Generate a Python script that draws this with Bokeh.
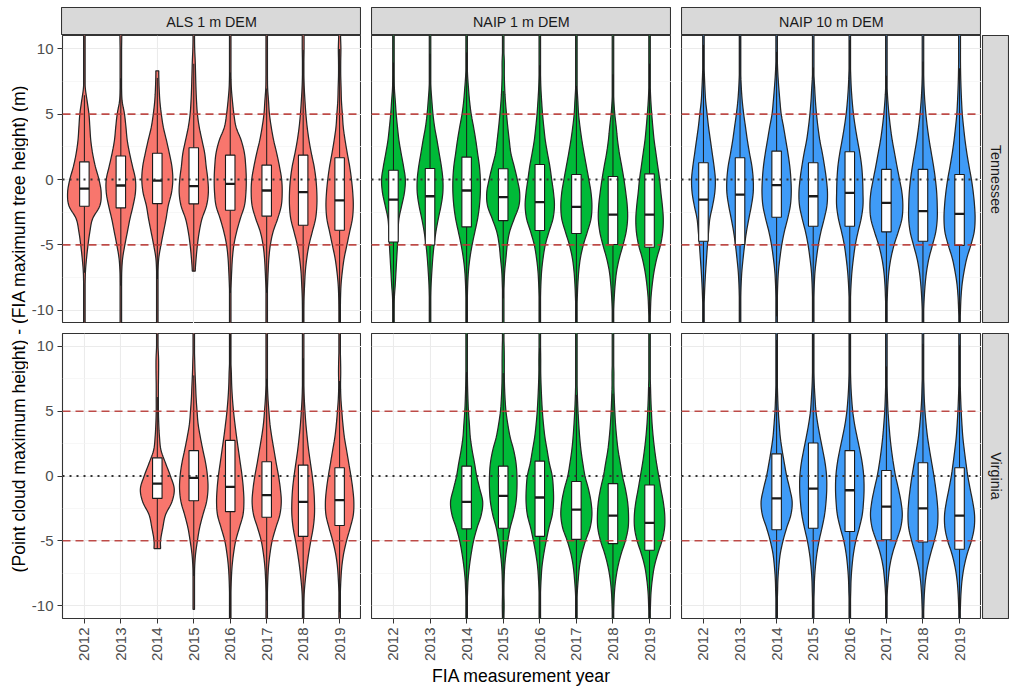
import math
import numpy as np
from bokeh.plotting import figure
from bokeh.layouts import row, column, Spacer
from bokeh.models import ColumnDataSource, Range1d, FixedTicker, Span, Grid
from bokeh.core.properties import value
from bokeh.embed import file_html
from bokeh.resources import INLINE

# ---------------- data ----------------
years = ["2012", "2013", "2014", "2015", "2016", "2017", "2018", "2019"]
dems = ["ALS 1 m DEM", "NAIP 1 m DEM", "NAIP 10 m DEM"]
states = ["Tennessee", "Virginia"]
y_ticks = [-10, -5, 0, 5, 10]
y_tick_labels = ["-10", "-5", "0", "5", "10"]
y_minor = [-7.5, -2.5, 2.5, 7.5]
ref_dashed = [-5, 5]
ref_dotted = [0]

# violin full widths (in category units) at these height levels (m)
levels = [11, 10, 9, 8, 7, 6, 5, 4, 3, 2, 1, 0, -1, -2, -3, -4, -5, -6, -7, -8, -9, -10, -11]

tn_als_w = [
    [0.03, 0.03, 0.03, 0.03, 0.05, 0.15, 0.25, 0.3, 0.35, 0.45, 0.6, 0.8, 0.92, 0.85, 0.45, 0.3, 0.2, 0.12, 0.06, 0.04, 0.03, 0.03, 0.03],
    [0.05, 0.04, 0.03, 0.03, 0.04, 0.07, 0.2, 0.28, 0.35, 0.48, 0.64, 0.8, 0.8, 0.67, 0.5, 0.36, 0.22, 0.1, 0.05, 0.04, 0.03, 0.03, 0.03],
    [0, 0, 0, 0.08, 0.1, 0.14, 0.22, 0.33, 0.5, 0.66, 0.8, 0.85, 0.78, 0.6, 0.48, 0.34, 0.2, 0.08, 0.04, 0.03, 0.03, 0.03, 0.03],
    [0.04, 0.05, 0.08, 0.1, 0.12, 0.15, 0.2, 0.3, 0.45, 0.6, 0.68, 0.77, 0.8, 0.7, 0.45, 0.3, 0.2, 0.13, 0.08, 0, 0, 0, 0],
    [0.03, 0.03, 0.03, 0.04, 0.06, 0.12, 0.2, 0.32, 0.6, 0.78, 0.85, 0.88, 0.86, 0.78, 0.55, 0.35, 0.2, 0.12, 0.08, 0.05, 0.03, 0.03, 0.03],
    [0.03, 0.03, 0.03, 0.04, 0.05, 0.1, 0.15, 0.25, 0.38, 0.55, 0.7, 0.82, 0.85, 0.8, 0.6, 0.35, 0.2, 0.12, 0.08, 0.05, 0.03, 0.03, 0.03],
    [0.05, 0.05, 0.04, 0.04, 0.06, 0.1, 0.15, 0.22, 0.32, 0.45, 0.6, 0.7, 0.75, 0.75, 0.68, 0.5, 0.32, 0.2, 0.12, 0.08, 0.05, 0.04, 0.03],
    [0.05, 0.07, 0.06, 0.06, 0.08, 0.1, 0.15, 0.2, 0.3, 0.42, 0.55, 0.65, 0.72, 0.75, 0.7, 0.55, 0.4, 0.25, 0.15, 0.08, 0.05, 0.04, 0.03],
]
tn_als_q1 = [-2.04, -2.17, -1.84, -1.86, -2.35, -2.8, -3.5, -3.88]
tn_als_med = [-0.69, -0.46, -0.08, -0.51, -0.33, -0.84, -0.97, -1.6]
tn_als_q3 = [1.35, 1.79, 2.0, 2.42, 1.86, 1.1, 1.86, 1.66]
tn_als_ymin = [None, None, None, -7.0, None, None, None, None]
tn_als_ymax = [None, None, 8.3, None, None, None, None, None]

tn_naip1_w = [
    [0.03, 0.03, 0.03, 0.04, 0.05, 0.1, 0.15, 0.22, 0.3, 0.42, 0.55, 0.65, 0.6, 0.45, 0.3, 0.25, 0.22, 0.18, 0.14, 0.1, 0.05, 0.04, 0.03],
    [0.03, 0.03, 0.03, 0.03, 0.05, 0.1, 0.16, 0.25, 0.38, 0.5, 0.62, 0.7, 0.7, 0.6, 0.45, 0.32, 0.22, 0.15, 0.1, 0.06, 0.04, 0.03, 0.03],
    [0.03, 0.03, 0.03, 0.05, 0.1, 0.16, 0.25, 0.38, 0.5, 0.6, 0.7, 0.75, 0.75, 0.7, 0.6, 0.45, 0.3, 0.18, 0.1, 0.06, 0.04, 0.03, 0.03],
    [0.03, 0.03, 0.06, 0.06, 0.08, 0.12, 0.18, 0.25, 0.33, 0.42, 0.6, 0.77, 0.9, 0.86, 0.6, 0.35, 0.22, 0.15, 0.08, 0.05, 0.03, 0.03, 0.03],
    [0.03, 0.03, 0.03, 0.04, 0.06, 0.1, 0.15, 0.22, 0.3, 0.42, 0.55, 0.65, 0.75, 0.8, 0.72, 0.5, 0.3, 0.18, 0.1, 0.06, 0.04, 0.03, 0.03],
    [0.03, 0.03, 0.03, 0.03, 0.04, 0.08, 0.12, 0.2, 0.3, 0.42, 0.55, 0.68, 0.8, 0.85, 0.8, 0.6, 0.38, 0.22, 0.13, 0.08, 0.05, 0.03, 0.03],
    [0.03, 0.03, 0.03, 0.03, 0.03, 0.05, 0.1, 0.18, 0.25, 0.35, 0.48, 0.6, 0.7, 0.78, 0.8, 0.72, 0.55, 0.35, 0.2, 0.12, 0.07, 0.04, 0.03],
    [0.03, 0.03, 0.03, 0.03, 0.04, 0.07, 0.12, 0.18, 0.25, 0.35, 0.45, 0.55, 0.62, 0.7, 0.75, 0.72, 0.6, 0.4, 0.25, 0.15, 0.08, 0.05, 0.03],
]
tn_naip1_q1 = [-4.77, -5.0, -3.62, -3.14, -3.9, -4.13, -4.97, -5.18]
tn_naip1_med = [-1.53, -1.28, -0.84, -1.35, -1.73, -2.09, -2.68, -2.68]
tn_naip1_q3 = [0.71, 0.84, 1.71, 0.82, 1.15, 0.38, 0.23, 0.43]

tn_naip10_w = [
    [0.03, 0.03, 0.03, 0.05, 0.08, 0.12, 0.2, 0.28, 0.38, 0.48, 0.58, 0.65, 0.62, 0.5, 0.35, 0.28, 0.22, 0.17, 0.12, 0.08, 0.05, 0.03, 0.03],
    [0.03, 0.03, 0.03, 0.04, 0.07, 0.12, 0.2, 0.3, 0.4, 0.52, 0.65, 0.72, 0.72, 0.62, 0.48, 0.35, 0.25, 0.17, 0.1, 0.06, 0.04, 0.03, 0.03],
    [0.03, 0.03, 0.04, 0.07, 0.12, 0.18, 0.25, 0.38, 0.5, 0.62, 0.72, 0.78, 0.8, 0.75, 0.6, 0.42, 0.28, 0.18, 0.1, 0.06, 0.04, 0.03, 0.03],
    [0.03, 0.03, 0.03, 0.04, 0.08, 0.12, 0.18, 0.26, 0.36, 0.5, 0.62, 0.72, 0.78, 0.75, 0.6, 0.42, 0.28, 0.18, 0.1, 0.06, 0.04, 0.03, 0.03],
    [0.03, 0.03, 0.03, 0.05, 0.08, 0.13, 0.2, 0.3, 0.42, 0.55, 0.65, 0.7, 0.72, 0.72, 0.62, 0.45, 0.3, 0.2, 0.12, 0.07, 0.04, 0.03, 0.03],
    [0.03, 0.03, 0.03, 0.03, 0.04, 0.08, 0.14, 0.22, 0.32, 0.45, 0.58, 0.72, 0.85, 0.9, 0.85, 0.65, 0.42, 0.25, 0.14, 0.08, 0.05, 0.03, 0.03],
    [0.03, 0.03, 0.03, 0.04, 0.06, 0.1, 0.16, 0.24, 0.34, 0.46, 0.58, 0.68, 0.75, 0.78, 0.78, 0.7, 0.52, 0.33, 0.2, 0.12, 0.07, 0.04, 0.03],
    [0.05, 0.05, 0.05, 0.06, 0.08, 0.11, 0.15, 0.22, 0.3, 0.4, 0.52, 0.65, 0.75, 0.82, 0.85, 0.8, 0.62, 0.4, 0.25, 0.14, 0.08, 0.05, 0.03],
]
tn_naip10_q1 = [-4.72, -4.97, -2.88, -3.57, -3.57, -4.0, -4.72, -5.03]
tn_naip10_med = [-1.53, -1.15, -0.43, -1.28, -1.02, -1.79, -2.42, -2.63]
tn_naip10_q3 = [1.28, 1.66, 2.17, 1.28, 2.12, 0.77, 0.77, 0.38]

va_als_w = [
    None,
    None,
    [0.03, 0.04, 0.07, 0.07, 0.06, 0.06, 0.06, 0.08, 0.12, 0.2, 0.45, 0.72, 0.93, 0.8, 0.45, 0.3, 0.18, 0, 0, 0, 0, 0, 0],
    [0.03, 0.03, 0.05, 0.07, 0.1, 0.13, 0.18, 0.24, 0.36, 0.5, 0.65, 0.75, 0.78, 0.7, 0.5, 0.32, 0.2, 0.1, 0.05, 0.04, 0.04, 0.04, 0],
    [0.03, 0.03, 0.03, 0.06, 0.08, 0.12, 0.18, 0.26, 0.35, 0.45, 0.55, 0.65, 0.72, 0.75, 0.7, 0.5, 0.3, 0.18, 0.1, 0.06, 0.04, 0.03, 0.03],
    [0.03, 0.03, 0.03, 0.03, 0.04, 0.07, 0.12, 0.18, 0.28, 0.4, 0.52, 0.65, 0.75, 0.8, 0.72, 0.5, 0.3, 0.18, 0.1, 0.06, 0.04, 0.03, 0.03],
    [0.03, 0.03, 0.03, 0.03, 0.04, 0.06, 0.1, 0.15, 0.22, 0.3, 0.4, 0.5, 0.58, 0.62, 0.62, 0.55, 0.42, 0.3, 0.2, 0.12, 0.06, 0.04, 0.03],
    [0.03, 0.03, 0.05, 0.06, 0.05, 0.07, 0.12, 0.18, 0.26, 0.38, 0.5, 0.62, 0.72, 0.78, 0.75, 0.58, 0.38, 0.22, 0.12, 0.07, 0.04, 0.03, 0.03],
]
va_als_q1 = [None, None, -1.73, -1.91, -2.75, -3.18, -4.66, -3.82]
va_als_med = [None, None, -0.59, -0.15, -0.84, -1.48, -1.99, -1.86]
va_als_q3 = [None, None, 1.4, 1.96, 2.75, 1.1, 0.84, 0.64]
va_als_ymin = [None, None, -5.6, -10.3, None, None, None, None]

va_naip1_w = [
    None,
    None,
    [0.03, 0.03, 0.03, 0.04, 0.05, 0.07, 0.1, 0.15, 0.2, 0.3, 0.43, 0.55, 0.72, 0.88, 0.8, 0.57, 0.38, 0.25, 0.15, 0.08, 0.05, 0.03, 0.03],
    [0.03, 0.05, 0.06, 0.06, 0.07, 0.1, 0.15, 0.25, 0.38, 0.57, 0.7, 0.75, 0.75, 0.7, 0.57, 0.38, 0.25, 0.15, 0.08, 0.05, 0.04, 0.05, 0.04],
    [0.03, 0.04, 0.05, 0.05, 0.07, 0.1, 0.14, 0.2, 0.28, 0.4, 0.52, 0.68, 0.74, 0.75, 0.68, 0.5, 0.35, 0.22, 0.12, 0.07, 0.04, 0.03, 0.03],
    [0.03, 0.03, 0.03, 0.03, 0.04, 0.06, 0.09, 0.13, 0.18, 0.25, 0.35, 0.47, 0.66, 0.8, 0.85, 0.75, 0.5, 0.3, 0.17, 0.1, 0.05, 0.03, 0.03],
    [0.03, 0.03, 0.03, 0.05, 0.05, 0.07, 0.1, 0.14, 0.2, 0.28, 0.4, 0.52, 0.68, 0.8, 0.85, 0.83, 0.68, 0.45, 0.27, 0.15, 0.08, 0.05, 0.03],
    [0.03, 0.03, 0.03, 0.03, 0.05, 0.07, 0.1, 0.14, 0.2, 0.28, 0.38, 0.5, 0.62, 0.75, 0.83, 0.82, 0.68, 0.45, 0.26, 0.15, 0.08, 0.05, 0.03],
]
va_naip1_q1 = [None, None, -4.08, -4.03, -4.66, -4.89, -5.22, -5.73]
va_naip1_med = [None, None, -1.99, -1.53, -1.66, -2.6, -3.06, -3.62]
va_naip1_q3 = [None, None, 0.76, 0.76, 1.15, -0.43, -0.59, -0.69]

va_naip10_w = [
    None,
    None,
    [0.03, 0.03, 0.03, 0.03, 0.04, 0.06, 0.09, 0.14, 0.2, 0.3, 0.42, 0.55, 0.72, 0.85, 0.78, 0.55, 0.35, 0.2, 0.12, 0.07, 0.05, 0.03, 0.03],
    [0.03, 0.03, 0.03, 0.04, 0.06, 0.1, 0.15, 0.25, 0.38, 0.52, 0.65, 0.73, 0.74, 0.7, 0.62, 0.48, 0.32, 0.2, 0.12, 0.07, 0.05, 0.03, 0.03],
    [0.03, 0.03, 0.03, 0.04, 0.06, 0.1, 0.16, 0.26, 0.4, 0.55, 0.68, 0.76, 0.78, 0.75, 0.68, 0.52, 0.33, 0.2, 0.12, 0.07, 0.05, 0.03, 0.03],
    [0.03, 0.03, 0.03, 0.03, 0.04, 0.06, 0.09, 0.14, 0.2, 0.28, 0.38, 0.5, 0.66, 0.8, 0.87, 0.78, 0.55, 0.33, 0.18, 0.1, 0.05, 0.03, 0.03],
    [0.03, 0.03, 0.03, 0.03, 0.05, 0.07, 0.11, 0.17, 0.25, 0.36, 0.48, 0.6, 0.7, 0.78, 0.82, 0.78, 0.62, 0.42, 0.25, 0.14, 0.08, 0.05, 0.03],
    [0.03, 0.03, 0.03, 0.03, 0.04, 0.06, 0.09, 0.13, 0.18, 0.26, 0.35, 0.45, 0.58, 0.72, 0.82, 0.8, 0.65, 0.42, 0.25, 0.14, 0.08, 0.05, 0.03],
]
va_naip10_q1 = [None, None, -4.15, -4.03, -4.28, -4.92, -5.1, -5.66]
va_naip10_med = [None, None, -1.73, -0.97, -1.1, -2.37, -2.5, -3.06]
va_naip10_q3 = [None, None, 1.71, 2.55, 1.96, 0.43, 1.02, 0.64]

no_ends = [None] * 8
dem_colors = ["#F8766D", "#00BA38", "#3F9BF7"]

panels = {
    ("Tennessee", "ALS 1 m DEM"): (tn_als_w, tn_als_q1, tn_als_med, tn_als_q3, tn_als_ymin, tn_als_ymax),
    ("Tennessee", "NAIP 1 m DEM"): (tn_naip1_w, tn_naip1_q1, tn_naip1_med, tn_naip1_q3, no_ends, no_ends),
    ("Tennessee", "NAIP 10 m DEM"): (tn_naip10_w, tn_naip10_q1, tn_naip10_med, tn_naip10_q3, no_ends, no_ends),
    ("Virginia", "ALS 1 m DEM"): (va_als_w, va_als_q1, va_als_med, va_als_q3, va_als_ymin, no_ends),
    ("Virginia", "NAIP 1 m DEM"): (va_naip1_w, va_naip1_q1, va_naip1_med, va_naip1_q3, no_ends, no_ends),
    ("Virginia", "NAIP 10 m DEM"): (va_naip10_w, va_naip10_q1, va_naip10_med, va_naip10_q3, no_ends, no_ends),
}

# ---------------- styling constants ----------------
FONT = "Liberation Sans"
BOX_W = 0.26
TICK_FS = "15px"
STRIP_FS = "14.3px"
TITLE_FS = "17.6px"
x_pos = list(range(1, len(years) + 1))


def smooth(ys, ws, n=6):
    m = len(ys)
    oy, ow = [], []
    for i in range(m - 1):
        p0 = ws[max(i - 1, 0)]
        p1 = ws[i]
        p2 = ws[i + 1]
        p3 = ws[min(i + 2, m - 1)]
        for t in np.linspace(0, 1, n, endpoint=False):
            oy.append(ys[i] + (ys[i + 1] - ys[i]) * t)
            ow.append(0.5 * (2 * p1 + (-p0 + p2) * t + (2 * p0 - 5 * p1 + 4 * p2 - p3) * t * t
                             + (-p0 + 3 * p1 - 3 * p2 + p3) * t ** 3))
    oy.append(ys[-1])
    ow.append(ws[-1])
    return np.array(oy), np.clip(np.array(ow), 0.04, None)


def violin_outline(c, widths, ymin, ymax):
    pts = [(lv, w) for lv, w in zip(levels, widths) if w > 0]
    ys = [p[0] for p in pts]
    ws = [p[1] for p in pts]
    top = ymax if ymax is not None else 12.0
    bot = ymin if ymin is not None else -12.0
    if top > ys[0]:
        ys = [top] + ys
        ws = [ws[0]] + ws
    if bot < ys[-1]:
        ys = ys + [bot]
        ws = ws + [ws[-1]]
    sy, sw = smooth(ys, ws)
    xs = np.concatenate([c + sw / 2, (c - sw / 2)[::-1]])
    yy = np.concatenate([sy, sy[::-1]])
    return list(xs), list(yy)


def panel_fig(state, dem, color, width, height, min_left=0, min_bottom=0,
              show_x=False, show_y=False, xlabel=None):
    p = figure(width=width, height=height, x_range=Range1d(0.4, 8.6), y_range=Range1d(-11, 11),
               output_backend="svg", toolbar_location=None,
               x_axis_location="below" if show_x else None,
               y_axis_location="left" if show_y else None,
               min_border_left=min_left, min_border_right=0, min_border_top=0,
               min_border_bottom=min_bottom)
    p.background_fill_color = "white"
    p.border_fill_color = "white"
    p.outline_line_color = "#333333"
    p.outline_line_width = 1.1
    p.center = [
        Grid(dimension=0, ticker=FixedTicker(ticks=x_pos), grid_line_color="#EBEBEB", grid_line_width=1.1),
        Grid(dimension=1, ticker=FixedTicker(ticks=y_ticks, minor_ticks=y_minor),
             grid_line_color="#EBEBEB", grid_line_width=1.1,
             minor_grid_line_color="#F3F3F3", minor_grid_line_width=0.7),
    ]

    w, q1, med, q3, ymins, ymaxs = panels[(state, dem)]
    vxs, vys = [], []
    bx, bq1, bq3, bmed, wlo, whi = [], [], [], [], [], []
    for i, yr in enumerate(years):
        if w[i] is None:
            continue
        c = x_pos[i]
        xs, ys = violin_outline(c, w[i], ymins[i], ymaxs[i])
        vxs.append(xs)
        vys.append(ys)
        iqr = q3[i] - q1[i]
        lo_lim = ymins[i] if ymins[i] is not None else -99
        hi_lim = ymaxs[i] if ymaxs[i] is not None else 99
        bx.append(c)
        bq1.append(q1[i])
        bq3.append(q3[i])
        bmed.append(med[i])
        wlo.append(max(q1[i] - 1.5 * iqr, lo_lim))
        whi.append(min(q3[i] + 1.5 * iqr, hi_lim))

    p.patches(xs=vxs, ys=vys, fill_color=color, line_color="#262626", line_width=1.25)
    src = ColumnDataSource(dict(x=bx, q1=bq1, q3=bq3, med=bmed, lo=wlo, hi=whi,
                                left=[v - BOX_W / 2 for v in bx], right=[v + BOX_W / 2 for v in bx]))
    p.segment(x0="x", y0="q3", x1="x", y1="hi", source=src, line_color="#1A1A1A", line_width=1)
    p.segment(x0="x", y0="q1", x1="x", y1="lo", source=src, line_color="#1A1A1A", line_width=1)
    p.quad(left="left", right="right", bottom="q1", top="q3", source=src,
           fill_color="white", line_color="#1A1A1A", line_width=1.1)
    p.segment(x0="left", y0="med", x1="right", y1="med", source=src, line_color="#1A1A1A", line_width=2.3)

    for loc in ref_dashed:
        p.add_layout(Span(location=loc, dimension="width", line_color="#B83A36", line_alpha=0.9,
                          line_width=1.7, line_dash="8 5"))
    for loc in ref_dotted:
        p.add_layout(Span(location=loc, dimension="width", line_color="#333333",
                          line_width=1.8, line_dash="2 5"))

    if show_y:
        ax = p.yaxis[0]
        ax.ticker = FixedTicker(ticks=y_ticks)
        ax.major_label_overrides = {t: s for t, s in zip(y_ticks, y_tick_labels)}
        ax.major_label_text_font = FONT
        ax.major_label_text_font_size = TICK_FS
        ax.major_label_text_color = "#4D4D4D"
        ax.major_tick_line_color = "#333333"
        ax.major_tick_out = 5
        ax.major_tick_in = 0
        ax.minor_tick_line_color = None
        ax.axis_line_color = None
        ax.major_label_standoff = 4
    if show_x:
        ax = p.xaxis[0]
        ax.ticker = FixedTicker(ticks=x_pos)
        ax.major_label_overrides = {t: s for t, s in zip(x_pos, years)}
        ax.major_label_orientation = math.pi / 2
        ax.major_label_text_font = FONT
        ax.major_label_text_font_size = TICK_FS
        ax.major_label_text_color = "#4D4D4D"
        ax.major_tick_line_color = "#333333"
        ax.major_tick_out = 5
        ax.major_tick_in = 0
        ax.minor_tick_line_color = None
        ax.axis_line_color = None
        ax.major_label_standoff = 4
        if xlabel:
            ax.axis_label = xlabel
            ax.axis_label_text_font = FONT
            ax.axis_label_text_font_size = TITLE_FS
            ax.axis_label_text_font_style = "normal"
            ax.axis_label_text_color = "black"
            ax.axis_label_standoff = 2
    return p


def strip_fig(text, width, height, angle=0.0, min_bottom=0):
    s = figure(width=width, height=height, x_range=Range1d(0, 1), y_range=Range1d(0, 1),
               output_backend="svg", toolbar_location=None,
               x_axis_location=None, y_axis_location=None,
               min_border_left=0, min_border_right=0, min_border_top=0, min_border_bottom=min_bottom)
    s.center = []
    s.background_fill_color = "#D9D9D9"
    s.border_fill_color = "white"
    s.outline_line_color = "#333333"
    s.outline_line_width = 1.1
    s.text(x=[0.5], y=[0.5], text=[text], angle=angle, text_align="center", text_baseline="middle",
           text_font=value(FONT), text_font_size=STRIP_FS, text_color="#1A1A1A")
    return s


# ---------------- layout (page has no margin: absolute pixel plan) ----------------
TOP_PAD = 7
STRIP_H = 28
TOP_H = 288
GAP = 10
BOT_FRAME = 288
BOT_AX = 67
BOT_H = BOT_FRAME + BOT_AX
YT_W = 28
LEFT_AX = 33
PW = 300
TOTAL_H = TOP_PAD + STRIP_H + TOP_H + GAP + BOT_H
PANEL_MID = TOP_PAD + STRIP_H + (TOP_H + GAP + BOT_FRAME) / 2

ytitle = figure(width=YT_W, height=TOTAL_H, x_range=Range1d(0, YT_W), y_range=Range1d(0, TOTAL_H),
                output_backend="svg", toolbar_location=None, x_axis_location=None, y_axis_location=None,
                min_border=0)
ytitle.center = []
ytitle.outline_line_color = None
ytitle.text(x=[18], y=[TOTAL_H - PANEL_MID],
            text=["(Point cloud maximum height) - (FIA maximum tree height) (m)"],
            angle=math.pi / 2, text_align="center", text_baseline="middle",
            text_font=value(FONT), text_font_size=TITLE_FS, text_color="black")

strip_row = row(
    Spacer(width=LEFT_AX, height=STRIP_H),
    strip_fig(dems[0], PW, STRIP_H),
    Spacer(width=GAP, height=STRIP_H),
    strip_fig(dems[1], PW, STRIP_H),
    Spacer(width=GAP, height=STRIP_H),
    strip_fig(dems[2], PW, STRIP_H),
    Spacer(width=28, height=STRIP_H),
)

top_row = row(
    panel_fig(states[0], dems[0], dem_colors[0], LEFT_AX + PW, TOP_H, min_left=LEFT_AX, show_y=True),
    Spacer(width=GAP, height=TOP_H),
    panel_fig(states[0], dems[1], dem_colors[1], PW, TOP_H),
    Spacer(width=GAP, height=TOP_H),
    panel_fig(states[0], dems[2], dem_colors[2], PW, TOP_H),
    Spacer(width=1, height=TOP_H),
    strip_fig(states[0], 27, TOP_H, angle=-math.pi / 2),
)

bottom_row = row(
    panel_fig(states[1], dems[0], dem_colors[0], LEFT_AX + PW, BOT_H, min_left=LEFT_AX,
              min_bottom=BOT_AX, show_x=True, show_y=True),
    Spacer(width=GAP, height=BOT_H),
    panel_fig(states[1], dems[1], dem_colors[1], PW, BOT_H, min_bottom=BOT_AX, show_x=True,
              xlabel="FIA measurement year"),
    Spacer(width=GAP, height=BOT_H),
    panel_fig(states[1], dems[2], dem_colors[2], PW, BOT_H, min_bottom=BOT_AX, show_x=True),
    Spacer(width=1, height=BOT_H),
    strip_fig(states[1], 27, BOT_H, angle=-math.pi / 2, min_bottom=BOT_AX),
)

layout = row(ytitle, column(Spacer(width=10, height=TOP_PAD), strip_row, top_row,
                            Spacer(width=10, height=GAP), bottom_row))

with open("out.html", "w") as f:
    f.write(file_html(layout, INLINE, title="Violin plots"))
